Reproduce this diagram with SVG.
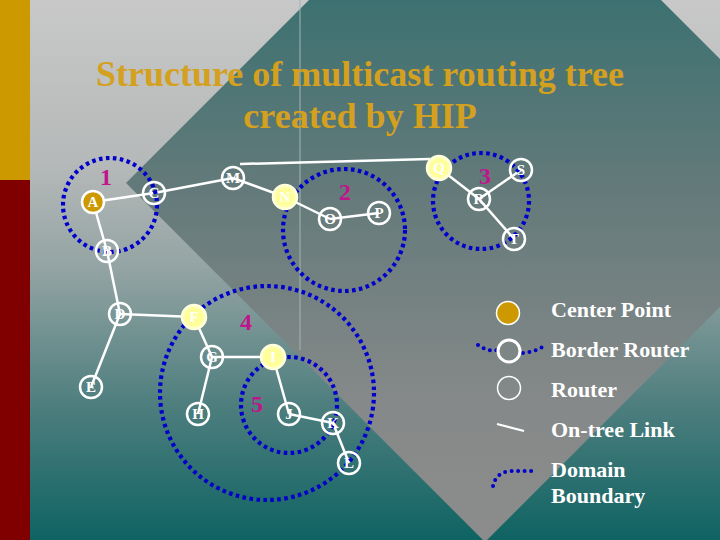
<svg xmlns="http://www.w3.org/2000/svg" width="720" height="540" viewBox="0 0 720 540">
<defs>
<linearGradient id="bg" gradientUnits="userSpaceOnUse" x1="0" y1="0" x2="0" y2="540">
<stop offset="0" stop-color="#C8C8C8"/>
<stop offset="0.3" stop-color="#B6B9B9"/>
<stop offset="0.5" stop-color="#93A3A3"/>
<stop offset="0.75" stop-color="#4E7E7E"/>
<stop offset="1" stop-color="#0F6363"/>
</linearGradient>
<linearGradient id="dia" gradientUnits="userSpaceOnUse" x1="0" y1="0" x2="0" y2="540">
<stop offset="0" stop-color="#3D7171"/>
<stop offset="0.35" stop-color="#647A7A"/>
<stop offset="0.75" stop-color="#868989"/>
<stop offset="1" stop-color="#8C8C8C"/>
</linearGradient>
<radialGradient id="glow">
<stop offset="0" stop-color="#FFFF99"/>
<stop offset="0.7" stop-color="#FFFF99"/>
<stop offset="1" stop-color="#FFFFCC"/>
</radialGradient>
</defs>
<style>
.title{font-family:"Liberation Serif","Times New Roman",serif;font-weight:bold;font-size:36px;fill:#D4A020;text-anchor:middle}
.link{stroke:#FFFFFF;stroke-width:2.5;fill:none}
.node{fill:none;stroke:#FFFFFF;stroke-width:2.5}
.center{fill:url(#glow);stroke:#FFFFDD;stroke-width:2.5}
.nl{font-family:"Liberation Serif","Times New Roman",serif;font-weight:bold;font-size:15px;fill:#FFFFFF;text-anchor:middle}
.dom{fill:none;stroke:#0000CC;stroke-width:4.2;stroke-dasharray:3.6 3.4}
.dl{font-family:"Liberation Serif","Times New Roman",serif;font-weight:bold;font-size:24px;fill:#C0148C;text-anchor:middle}
.lg{font-family:"Liberation Serif","Times New Roman",serif;font-weight:bold;font-size:22px;fill:#FFFFFF}
.dots{fill:none;stroke:#0000CC;stroke-width:4;stroke-linecap:round;stroke-dasharray:0 6.5}
</style>
<rect x="0" y="0" width="720" height="540" fill="url(#bg)"/>
<polygon points="126,183 485,-176 844,183 485,542" fill="url(#dia)"/>
<line x1="300" y1="0" x2="300" y2="350" stroke="#A4B4B4" stroke-width="1"/>
<rect x="0" y="0" width="30" height="180" fill="#CC9900"/>
<rect x="0" y="180" width="30" height="360" fill="#800000"/>
<text class="title" x="360" y="86">Structure of multicast routing tree</text>
<text class="title" x="360" y="128">created by HIP</text>
<g id="connectors">
<line class="link" x1="93" y1="202" x2="154" y2="193"/>
<line class="link" x1="93" y1="202" x2="107" y2="251"/>
<line class="link" x1="154" y1="193" x2="233" y2="178"/>
<line class="link" x1="233" y1="178" x2="285" y2="197"/>
<line class="link" x1="240" y1="164" x2="430" y2="159"/>
<line class="link" x1="285" y1="197" x2="330" y2="219"/>
<line class="link" x1="330" y1="219" x2="379" y2="213"/>
<line class="link" x1="439" y1="168" x2="479" y2="199"/>
<line class="link" x1="479" y1="199" x2="521" y2="170"/>
<line class="link" x1="479" y1="199" x2="514" y2="239"/>
<line class="link" x1="107" y1="251" x2="120" y2="314"/>
<line class="link" x1="120" y1="314" x2="91" y2="387"/>
<line class="link" x1="120" y1="314" x2="194" y2="317"/>
<line class="link" x1="194" y1="317" x2="212" y2="357"/>
<line class="link" x1="212" y1="357" x2="273" y2="357"/>
<line class="link" x1="212" y1="357" x2="198" y2="414"/>
<line class="link" x1="273" y1="357" x2="289" y2="414"/>
<line class="link" x1="289" y1="414" x2="333" y2="423"/>
<line class="link" x1="333" y1="423" x2="349" y2="463"/>
</g>
<g id="domains">
<circle class="dom" cx="110" cy="205" r="47"/>
<circle class="dom" cx="344" cy="230" r="61"/>
<circle class="dom" cx="481" cy="201" r="48"/>
<circle class="dom" cx="267" cy="393" r="107"/>
<circle class="dom" cx="289" cy="405" r="48"/>
<text class="dl" x="106" y="185">1</text>
<text class="dl" x="345" y="200">2</text>
<text class="dl" x="485" y="184">3</text>
<text class="dl" x="246" y="330">4</text>
<text class="dl" x="257" y="412">5</text>
</g>
<g id="node-A"><circle cx="93" cy="202" r="11" fill="#CC9900" stroke="#FFFFFF" stroke-width="2.5"/><text class="nl" x="93" y="207">A</text></g>
<g id="node-B"><circle class="node" cx="107" cy="251" r="11"/><text class="nl" x="107" y="256">B</text></g>
<g id="node-C"><circle class="node" cx="154" cy="193" r="11"/><text class="nl" x="154" y="198">C</text></g>
<g id="node-M"><circle class="node" cx="233" cy="178" r="11"/><text class="nl" x="233" y="183">M</text></g>
<g id="node-N"><circle class="center" cx="285" cy="197" r="12"/><text class="nl" x="285" y="202">N</text></g>
<g id="node-O"><circle class="node" cx="330" cy="219" r="11"/><text class="nl" x="330" y="224">O</text></g>
<g id="node-P"><circle class="node" cx="379" cy="213" r="11"/><text class="nl" x="379" y="218">P</text></g>
<g id="node-Q"><circle class="center" cx="439" cy="168" r="12"/><text class="nl" x="439" y="173">Q</text></g>
<g id="node-R"><circle class="node" cx="479" cy="199" r="11"/><text class="nl" x="479" y="204">R</text></g>
<g id="node-S"><circle class="node" cx="521" cy="170" r="11"/><text class="nl" x="521" y="175">S</text></g>
<g id="node-T"><circle class="node" cx="514" cy="239" r="11"/><text class="nl" x="514" y="244">T</text></g>
<g id="node-D"><circle class="node" cx="120" cy="314" r="11"/><text class="nl" x="120" y="319">D</text></g>
<g id="node-E"><circle class="node" cx="91" cy="387" r="11"/><text class="nl" x="91" y="392">E</text></g>
<g id="node-F"><circle class="center" cx="194" cy="317" r="12"/><text class="nl" x="194" y="322">F</text></g>
<g id="node-G"><circle class="node" cx="212" cy="357" r="11"/><text class="nl" x="212" y="362">G</text></g>
<g id="node-H"><circle class="node" cx="198" cy="414" r="11"/><text class="nl" x="198" y="419">H</text></g>
<g id="node-I"><circle class="center" cx="273" cy="357" r="12"/><text class="nl" x="273" y="362">I</text></g>
<g id="node-J"><circle class="node" cx="289" cy="414" r="11"/><text class="nl" x="289" y="419">J</text></g>
<g id="node-K"><circle class="node" cx="333" cy="423" r="11"/><text class="nl" x="333" y="428">K</text></g>
<g id="node-L"><circle class="node" cx="349" cy="463" r="11"/><text class="nl" x="349" y="468">L</text></g>
<g id="legend">
<circle cx="508" cy="313" r="11.5" fill="#CC9900" stroke="#FFFFFF" stroke-width="1.5"/>
<path class="dots" d="M478,345 Q488,352 497,350"/>
<path class="dots" d="M523,353 Q535,352 546,345"/>
<circle cx="509" cy="351" r="11" fill="none" stroke="#FFFFFF" stroke-width="3"/>
<circle cx="509" cy="388" r="11.5" fill="none" stroke="#FFFFFF" stroke-width="1.5"/>
<line x1="497" y1="424" x2="524" y2="431" stroke="#FFFFFF" stroke-width="2"/>
<path class="dots" d="M493,486 Q496,472 511,471 L537,471"/>
<text class="lg" x="551" y="317">Center Point</text>
<text class="lg" x="551" y="357">Border Router</text>
<text class="lg" x="551" y="397">Router</text>
<text class="lg" x="551" y="437">On-tree Link</text>
<text class="lg" x="551" y="477">Domain</text>
<text class="lg" x="551" y="503">Boundary</text>
</g>
</svg>
